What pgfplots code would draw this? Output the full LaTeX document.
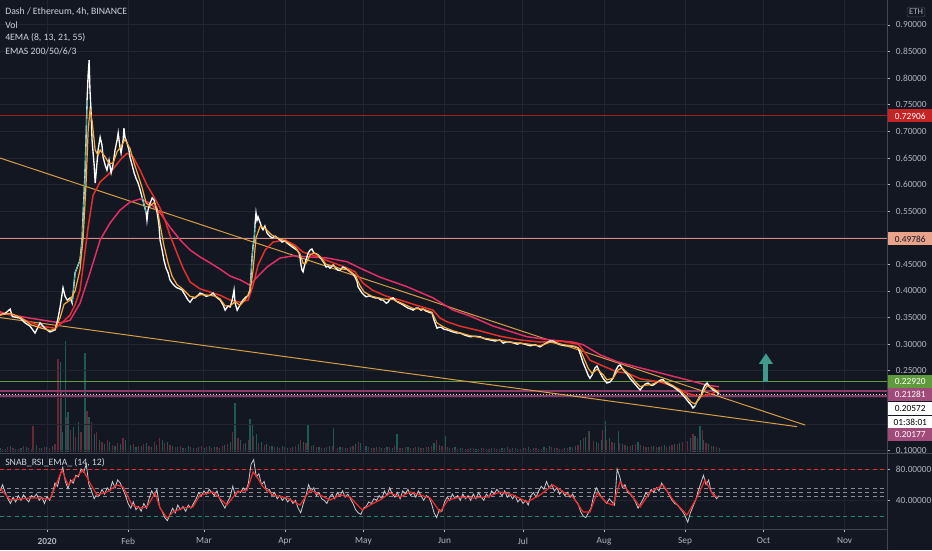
\documentclass[border=0pt]{standalone}
\usepackage{pgfplots}
\pgfplotsset{compat=1.18}
\usepackage{fontspec}
\setmainfont{Carlito}
\usetikzlibrary{arrows.meta}

\definecolor{bg}{HTML}{131722}
\definecolor{gridc}{HTML}{222531}
\definecolor{sepc}{HTML}{434651}
\definecolor{txt}{HTML}{B2B5BE}
\definecolor{txtl}{HTML}{D1D4DC}
\definecolor{emaorange}{HTML}{F7A93C}
\definecolor{emared}{HTML}{E8302B}
\definecolor{emapink}{HTML}{E52E66}
\definecolor{trend}{HTML}{D69D45}
\definecolor{hred}{HTML}{A51D1D}
\definecolor{hsalmon}{HTML}{D9897A}
\definecolor{hgreen}{HTML}{62973F}
\definecolor{hplum}{HTML}{8C3A68}
\definecolor{boxred}{HTML}{C62424}
\definecolor{boxsalmon}{HTML}{E9A38B}
\definecolor{boxgreen}{HTML}{5F9B3C}
\definecolor{boxplum}{HTML}{A04B7A}
\definecolor{volup}{HTML}{1D5A55}
\definecolor{voldn}{HTML}{6A2738}
\definecolor{arrowc}{HTML}{3E9A8C}
\definecolor{candle}{HTML}{26A69A}
\definecolor{rsiwhite}{HTML}{C9CACE}
\definecolor{rsired}{HTML}{F02A2A}
\definecolor{rsigreen}{HTML}{1C8A6A}
\definecolor{rsigrey}{HTML}{8A8D96}

\pgfplotsset{
  tv/.style={
    scale only axis, width=665.25pt,
    xmin=-18, xmax=321.2,
    axis line style={draw=none},
    grid style={gridc, line width=0.75pt},
    xtick={0,31,60,91,121,152,182,213,244,274,305},
    ytick pos=right, yticklabel pos=right,
    tick align=outside, major tick length=2.5pt,
    ytick style={txt, line width=0.5pt},
    ticklabel style={font=\fontsize{7}{8}\selectfont, text=txt},
    yticklabel style={anchor=west, inner sep=0pt, xshift=4pt},
    scaled y ticks=false,
    clip mode=individual,
  },
}

\begin{document}
\begin{tikzpicture}
\useasboundingbox (0,0) rectangle (699pt,412.5pt);
\fill[bg] (0,0) rectangle (699pt,412.5pt);

% volume
\begin{axis}[at={(0pt,187.5pt)}, anchor=north west, scale only axis,
  width=665.25pt, height=114pt, xmin=-18, xmax=321.2, ymin=0, ymax=152, hide axis]
\addplot[ycomb, volup, line width=0.9pt, mark=none] coordinates {
(-18,4)(-16,3)(-14,6)(-12,3)(-10,4)(-8,5)(-6,3)(-4,7)(-2,4)(0,5)(2,6)(4,30)(5,90)(6,20)(6.9,111)(8,40)(10,25)(12,30)(14.5,99)(16,35)(18,18)(20,12)(22,8)(24,10)(26,6)(28,8)(30,12)(32,7)(34,5)(36,6)(38,9)(40,5)(42,7)(44,12)(46,10)(48,6)(50,5)(52,4)(54,6)(56,4)(58,5)(60,4)(62,6)(64,5)(66,4)(68,7)(70,10)(71.9,49)(74,12)(76,9)(77.6,33)(78.5,28)(80,18)(82,10)(84,8)(86,6)(88,5)(90,6)(92,4)(94,5)(96,8)(98,10)(99.8,28)(102,7)(104,5)(106,4)(108,6)(109.4,24)(112,5)(114,4)(116,5)(118,8)(120,9)(122,6)(124,4)(126,5)(128,4)(130,5)(132,4)(133.8,18)(136,4)(138,5)(140,4)(142,5)(144,4)(146,5)(148,9)(150,7)(152.2,16)(154,4)(156,5)(158,4)(160,3)(162,4)(164,3)(166,4)(168,3)(170,4)(172,3)(174,4)(176,5)(178,4)(180,3)(182,4)(184,5)(186,4)(188,3)(190,5)(192,6)(194,4)(196,3)(198,4)(200,5)(202,6)(204,12)(206,15)(207.5,21)(210,10)(212,12)(213.4,31)(215,14)(217,9)(218.4,21)(220,8)(222,6)(224,7)(226,10)(228,6)(230,5)(232,6)(234,5)(236,7)(238,6)(240,8)(242,9)(244,12)(246,14)(247.8,16)(249.7,26)(251,12)(253,8)(255,6)(257,4)};
\addplot[ycomb, voldn, line width=0.9pt, mark=none] coordinates {
(-17,3)(-15,5)(-13,4)(-11,3)(-9,6)(-7,4)(-5.4,26)(-3,4)(-1,5)(1,4)(3,8)(4.2,93)(5.5,60)(7.5,35)(9,22)(11,15)(13,20)(15.3,41)(17,30)(19,20)(21,10)(23,12)(25,7)(27,9)(29,14)(31,10)(33,8)(35,6)(37,8)(39,6)(41,10)(43,14)(45,9)(47,7)(49,5)(51,6)(53,4)(55,5)(57,4)(59,6)(61,5)(63,4)(65,5)(67,6)(69,8)(71,20)(73,14)(75,8)(77,12)(79,16)(81,9)(83,7)(85,6)(87,5)(89,4)(91,5)(93,4)(95,6)(97,12)(99,9)(101,6)(103,5)(105,4)(107,5)(109,6)(111,4)(113,5)(115,4)(117,6)(119,10)(121,7)(123,5)(125,4)(127,5)(129,4)(131,5)(133,6)(135,4)(137,5)(139,4)(141,5)(143,4)(145,5)(147,6)(149,12)(151,6)(153,5)(155,4)(157,3)(159,4)(161,3)(163,4)(165,3)(167,4)(169,3)(171,4)(173,3)(175,4)(177,3)(179,4)(181,3)(183,4)(185,3)(187,4)(189,3)(191,4)(193,5)(195,4)(197,3)(199,4)(201,5)(203,7)(205,14)(206.9,21)(209,11)(211,9)(212.5,22)(214,12)(216,10)(219,9)(221,7)(223,6)(225,8)(227,7)(229,5)(231,6)(233,5)(235,6)(237,5)(239,7)(241,8)(243,10)(245,11)(247,18)(248.6,14)(250.5,22)(252,9)(254,6)(256,5)};
\end{axis}

% price pane
\begin{axis}[tv, at={(0pt,412.5pt)}, anchor=north west, height=339.75pt,
  ymin=0.0955, ymax=0.947,
  xmajorgrids, ymajorgrids, xticklabels={}, xtick style={draw=none},
  ytick={0.10,0.15,0.20,0.25,0.30,0.35,0.40,0.45,0.50,0.55,0.60,0.65,0.70,0.75,0.80,0.85,0.90},
  yticklabels={0.10000,,,0.25000,0.30000,0.35000,0.40000,0.45000,,0.55000,0.60000,0.65000,0.70000,0.75000,0.80000,0.85000,0.90000},
]
% horizontal levels
\addplot[hred, line width=0.75pt] coordinates {(-18,0.72906)(321.2,0.72906)};
\addplot[hsalmon, line width=0.75pt] coordinates {(-18,0.49786)(321.2,0.49786)};
\addplot[hgreen, line width=0.75pt] coordinates {(-18,0.22920)(321.2,0.22920)};
\addplot[hplum, line width=1.5pt] coordinates {(-18,0.21281)(321.2,0.21281)};
\addplot[hplum, line width=1.5pt] coordinates {(-18,0.20177)(321.2,0.20177)};
\addplot[white!85!black, line width=0.6pt, dash pattern=on 0.75pt off 1.5pt] coordinates {(-18,0.20572)(321.2,0.20572)};
% trend lines
\addplot[trend, line width=0.75pt] coordinates {(-18.0,0.650)(289.9,0.148)};
\addplot[trend, line width=0.75pt] coordinates {(-18.0,0.350)(286.8,0.145)};
% slow EMA
\addplot[emapink, line width=1.1pt] coordinates {
(-18.0,0.359)(-6.5,0.349)(5.0,0.340)(8.8,0.345)(12.6,0.377)(16.4,0.434)(20.3,0.496)(24.1,0.528)(27.9,0.552)(31.7,0.567)(35.6,0.573)(39.4,0.565)(43.2,0.547)(47.0,0.520)(50.9,0.496)(54.7,0.477)(58.5,0.464)(62.3,0.453)(66.2,0.441)(70.0,0.428)(73.8,0.421)(77.6,0.411)(80.3,0.426)(84.1,0.445)(89.1,0.462)(94.1,0.466)(100.6,0.464)(107.1,0.462)(114.7,0.455)(119.7,0.443)(127.3,0.426)(137.7,0.408)(147.6,0.387)(155.3,0.364)(161.8,0.353)(170.6,0.334)(183.6,0.314)(192.4,0.308)(201.1,0.304)(205.0,0.299)(211.5,0.280)(218.0,0.267)(225.6,0.257)(234.4,0.246)(244.7,0.233)(252.4,0.223)(257.0,0.220)};
% medium EMA
\addplot[emared, line width=1.1pt] coordinates {
(-18.0,0.361)(-10.3,0.349)(-2.7,0.334)(3.1,0.330)(6.1,0.342)(8.8,0.355)(10.7,0.374)(12.6,0.402)(14.1,0.458)(15.7,0.520)(17.6,0.580)(20.3,0.605)(24.1,0.622)(27.9,0.646)(30.6,0.659)(32.9,0.652)(35.6,0.627)(38.2,0.599)(40.5,0.580)(43.2,0.556)(45.1,0.533)(47.0,0.505)(49.7,0.471)(52.0,0.443)(54.7,0.417)(58.5,0.404)(62.3,0.398)(66.2,0.392)(70.0,0.383)(73.8,0.379)(76.9,0.383)(78.8,0.411)(80.7,0.449)(83.4,0.477)(86.4,0.492)(91.0,0.496)(94.8,0.486)(97.9,0.473)(102.5,0.466)(108.2,0.455)(114.0,0.445)(117.8,0.436)(120.8,0.415)(124.3,0.402)(129.3,0.391)(135.0,0.383)(140.7,0.374)(147.6,0.364)(150.3,0.349)(153.0,0.342)(157.9,0.334)(165.6,0.325)(173.2,0.315)(180.9,0.308)(188.5,0.304)(196.2,0.306)(203.1,0.300)(205.0,0.289)(207.6,0.270)(212.6,0.259)(218.0,0.248)(221.8,0.246)(226.8,0.235)(234.4,0.229)(239.4,0.221)(244.7,0.208)(249.7,0.201)(254.7,0.208)(257.0,0.214)};
% price (close, with a few wicks)
\addplot[white, line width=1.0pt] coordinates {
(-18.0,0.355)(-16.0,0.358)(-14.1,0.366)(-13.3,0.352)(-10.3,0.349)(-8.4,0.340)(-6.5,0.334)(-4.6,0.321)(-2.7,0.340)(-0.8,0.330)(1.1,0.323)(3.1,0.327)(4.2,0.349)(5.0,0.370)(6.1,0.406)(6.9,0.390)(7.7,0.383)(8.8,0.387)(9.6,0.377)(10.7,0.434)(11.9,0.449)(12.6,0.458)(13.4,0.496)(13.8,0.547)(14.5,0.618)(14.9,0.684)(15.3,0.759)(15.7,0.806)(16.1,0.834)(16.4,0.778)(16.8,0.740)(17.2,0.684)(18.0,0.637)(18.4,0.603)(18.7,0.618)(19.5,0.665)(20.3,0.689)(21.0,0.674)(21.4,0.652)(22.2,0.637)(22.9,0.627)(23.7,0.646)(24.5,0.622)(25.2,0.637)(26.0,0.665)(26.8,0.684)(27.2,0.697)(27.9,0.669)(28.3,0.659)(29.1,0.684)(29.4,0.706)(29.8,0.689)(30.6,0.678)(31.3,0.665)(31.7,0.652)(32.5,0.637)(33.3,0.622)(34.0,0.612)(34.8,0.603)(35.6,0.590)(36.3,0.577)(37.1,0.562)(37.9,0.547)(38.2,0.533)(38.6,0.552)(39.4,0.565)(40.2,0.575)(40.9,0.571)(41.7,0.556)(42.1,0.547)(42.8,0.524)(43.2,0.496)(44.0,0.477)(44.7,0.458)(45.5,0.443)(46.3,0.434)(47.0,0.421)(47.8,0.415)(48.9,0.409)(49.7,0.406)(50.8,0.404)(51.6,0.402)(52.8,0.392)(53.9,0.383)(54.7,0.379)(55.8,0.387)(56.6,0.387)(57.7,0.392)(58.5,0.396)(59.7,0.394)(60.8,0.390)(62.3,0.392)(63.5,0.396)(64.6,0.389)(66.2,0.383)(67.3,0.374)(68.1,0.364)(69.2,0.372)(70.0,0.370)(70.8,0.383)(71.5,0.402)(71.9,0.377)(72.7,0.364)(73.8,0.374)(74.9,0.383)(76.1,0.389)(76.8,0.391)(77.6,0.402)(78.0,0.430)(78.4,0.464)(78.8,0.486)(79.2,0.496)(79.5,0.524)(79.9,0.547)(80.3,0.533)(80.7,0.539)(81.5,0.528)(82.2,0.518)(82.6,0.515)(83.3,0.522)(84.1,0.509)(85.2,0.503)(86.0,0.500)(87.2,0.503)(88.0,0.500)(89.1,0.496)(89.9,0.492)(91.0,0.494)(91.8,0.490)(92.9,0.486)(93.7,0.483)(94.9,0.479)(95.6,0.477)(96.4,0.471)(96.7,0.464)(97.1,0.449)(97.5,0.439)(97.9,0.436)(98.3,0.445)(99.0,0.458)(99.8,0.471)(100.6,0.477)(101.3,0.479)(102.1,0.471)(102.9,0.470)(103.6,0.468)(104.4,0.463)(105.2,0.458)(105.9,0.453)(106.7,0.445)(107.5,0.447)(108.2,0.443)(109.4,0.449)(110.1,0.445)(111.3,0.439)(112.0,0.439)(113.2,0.445)(114.0,0.443)(115.1,0.439)(115.9,0.436)(117.0,0.432)(117.8,0.426)(118.6,0.417)(118.9,0.408)(119.7,0.402)(120.5,0.396)(121.3,0.392)(122.0,0.389)(123.2,0.391)(124.3,0.389)(125.5,0.387)(126.6,0.387)(127.7,0.383)(128.5,0.383)(129.7,0.377)(130.4,0.379)(131.2,0.385)(132.3,0.387)(133.5,0.381)(134.2,0.379)(135.4,0.376)(136.1,0.374)(137.3,0.370)(138.0,0.368)(139.2,0.366)(140.0,0.364)(141.1,0.368)(141.9,0.368)(143.0,0.364)(143.8,0.366)(145.0,0.362)(145.7,0.361)(146.5,0.359)(147.2,0.359)(148.0,0.345)(148.8,0.334)(149.1,0.330)(149.9,0.332)(150.7,0.332)(151.8,0.328)(153.0,0.327)(154.1,0.325)(155.3,0.323)(156.8,0.321)(157.9,0.321)(159.8,0.317)(161.8,0.314)(163.7,0.315)(165.6,0.314)(167.5,0.310)(169.4,0.308)(171.3,0.306)(173.2,0.308)(174.4,0.302)(175.5,0.304)(177.1,0.304)(178.6,0.302)(179.8,0.300)(180.9,0.302)(182.8,0.300)(184.7,0.297)(186.6,0.299)(188.5,0.295)(190.4,0.301)(191.6,0.304)(192.4,0.306)(193.5,0.306)(194.7,0.302)(196.2,0.299)(198.1,0.297)(200.0,0.297)(201.9,0.295)(203.1,0.293)(203.8,0.283)(205.0,0.265)(206.1,0.252)(206.9,0.242)(207.6,0.236)(208.4,0.242)(209.5,0.255)(210.3,0.259)(211.5,0.246)(212.6,0.236)(213.4,0.231)(214.1,0.227)(215.3,0.229)(216.4,0.236)(217.6,0.252)(218.4,0.259)(219.1,0.261)(219.9,0.255)(221.0,0.248)(221.8,0.244)(222.9,0.236)(224.1,0.229)(225.2,0.223)(226.0,0.218)(226.8,0.214)(227.9,0.221)(228.7,0.225)(229.8,0.227)(231.0,0.223)(231.7,0.223)(232.9,0.227)(234.0,0.231)(234.8,0.233)(235.6,0.233)(236.7,0.227)(238.2,0.223)(239.4,0.220)(240.5,0.216)(242.1,0.210)(243.2,0.204)(244.4,0.197)(245.5,0.190)(246.3,0.186)(247.0,0.180)(247.8,0.184)(248.6,0.193)(249.3,0.199)(250.1,0.204)(250.9,0.216)(251.6,0.223)(252.4,0.227)(253.2,0.221)(253.9,0.218)(254.7,0.214)(255.5,0.212)(256.2,0.210)(257.0,0.206)};
% rising candle bodies in the big moves
\addplot[candle, line width=0.5pt] coordinates {(9.6,0.377)(10.7,0.434)(11.9,0.449)(12.6,0.458)(13.4,0.496)(13.8,0.547)(14.5,0.618)(14.9,0.684)(15.3,0.759)};
\addplot[candle, line width=0.5pt] coordinates {(77.6,0.402)(78.0,0.430)(78.4,0.464)(78.8,0.486)(79.2,0.496)(79.5,0.524)};
\addplot[candle, line width=0.5pt] coordinates {(36.3,0.577)(37.1,0.562)(37.9,0.547)};
\addplot[candle, line width=0.5pt] coordinates {(247.8,0.184)(248.6,0.193)(249.3,0.199)(250.1,0.204)};
% fast EMA
\addplot[emaorange, line width=0.9pt] coordinates {
(-18,0.355)(-14,0.358)(-10,0.350)(-6,0.336)(-2,0.330)(1,0.326)(3,0.328)(5,0.350)(6.5,0.375)(8.8,0.383)(10.7,0.400)(12.6,0.440)(13.8,0.500)(14.9,0.600)(15.7,0.700)(16.4,0.740)(17.2,0.720)(18.4,0.665)(19.5,0.655)(20.3,0.665)(22.2,0.652)(23.7,0.640)(25.2,0.640)(26.8,0.662)(28.3,0.672)(29.8,0.685)(31.7,0.668)(33.3,0.640)(34.8,0.618)(36.3,0.595)(37.9,0.565)(39.4,0.560)(40.9,0.566)(42.1,0.555)(43.2,0.525)(44.7,0.485)(46.3,0.452)(47.8,0.428)(49.7,0.412)(51.6,0.405)(54.7,0.390)(56.6,0.388)(58.5,0.393)(62.3,0.392)(64.6,0.390)(66.2,0.385)(68.1,0.372)(70.0,0.372)(71.9,0.380)(73.8,0.373)(76.1,0.386)(77.6,0.398)(78.8,0.440)(79.9,0.500)(81.5,0.522)(83.3,0.518)(86.0,0.505)(89.1,0.498)(91.8,0.492)(94.9,0.482)(96.7,0.470)(97.9,0.452)(99.0,0.452)(100.6,0.468)(102.1,0.472)(104.4,0.465)(106.7,0.450)(109.4,0.447)(112.0,0.442)(115.1,0.440)(117.8,0.430)(119.7,0.410)(121.3,0.398)(124.3,0.390)(128.5,0.385)(132.3,0.384)(136.1,0.376)(140.0,0.367)(143.8,0.366)(147.2,0.360)(149.1,0.340)(151.8,0.332)(155.3,0.325)(161.8,0.316)(167.5,0.311)(173.2,0.307)(177.1,0.304)(182.8,0.301)(188.5,0.297)(192.4,0.304)(196.2,0.300)(201.9,0.296)(203.8,0.290)(205.0,0.277)(206.9,0.255)(208.4,0.245)(210.3,0.253)(212.6,0.243)(214.1,0.233)(216.4,0.236)(218.4,0.252)(219.9,0.255)(222.9,0.242)(225.2,0.228)(226.8,0.220)(228.7,0.223)(231.0,0.224)(234.0,0.230)(236.7,0.229)(239.4,0.222)(242.1,0.213)(244.4,0.202)(246.3,0.191)(247.8,0.188)(249.3,0.196)(250.9,0.210)(252.4,0.222)(254.7,0.217)(257.0,0.209)};
% target arrow
\addplot[arrowc, line width=3.75pt, -{Triangle[width=10pt,length=8pt]}] coordinates {(274.9,0.229)(274.9,0.283)};
% price scale markers
\tikzset{pbox/.style={anchor=west, inner sep=0pt, minimum width=33pt, minimum height=9.75pt, font=\fontsize{7}{8}\selectfont, xshift=0.75pt}}
\node[pbox, fill=boxred, text=white] at (axis cs:321.2,0.72906) {0.72906};
\node[pbox, fill=boxsalmon, text=bg] at (axis cs:321.2,0.49786) {0.49786};
\node[pbox, fill=boxgreen, text=white] at (axis cs:321.2,0.22920) {0.22920};
\node[pbox, fill=boxplum, text=white, yshift=-2.9pt] at (axis cs:321.2,0.21281) {0.21281};
\node[pbox, fill=white, text=black, yshift=-10.8pt] at (axis cs:321.2,0.20572) {0.20572};
\node[pbox, fill=white, text=black, yshift=-20.9pt] at (axis cs:321.2,0.20572) {01:38:01};
\node[pbox, fill=boxplum, text=white, yshift=-28.9pt] at (axis cs:321.2,0.20177) {0.20177};
\end{axis}

% RSI pane
\begin{axis}[tv, at={(0pt,71.25pt)}, anchor=north west, height=55.5pt,
  ymin=3.4, ymax=97.9, xmajorgrids, ymajorgrids,
  xtick pos=bottom, xtick style={txt, line width=0.5pt},
  xticklabels={\textbf{2020},Feb,Mar,Apr,May,Jun,Jul,Aug,Sep,Oct,Nov},
  xticklabel style={anchor=center, inner sep=0pt, yshift=-6.5pt},
  ytick={40,80}, yticklabels={40.00000,80.00000},
]
\addplot[rsired, line width=0.75pt, dash pattern=on 3pt off 2.5pt] coordinates {(-18,80)(321.2,80)};
\addplot[rsigreen, line width=0.75pt, dash pattern=on 3pt off 2.5pt] coordinates {(-18,20)(321.2,20)};
\addplot[rsigrey, line width=0.6pt, dash pattern=on 3pt off 2.5pt] coordinates {(-18,55)(321.2,55)};
\addplot[rsigrey, line width=0.6pt, dash pattern=on 3pt off 2.5pt] coordinates {(-18,50)(321.2,50)};
\addplot[rsigrey, line width=0.6pt, dash pattern=on 3pt off 2.5pt] coordinates {(-18,45)(321.2,45)};
\addplot[rsiwhite, line width=0.6pt] coordinates {
(-18,52)(-17,60)(-16,50)(-15,42)(-14,36)(-13,44)(-12,38)(-11,46)(-10,40)(-9,47)(-8,42)(-7,38)(-6,46)(-5,44)(-4,48)(-3,40)(-2,44)(-1,36)(0,45)(1,40)(2,48)(3,62)(4,58)(5,72)(6,82)(7,64)(8,55)(9,66)(10,62)(11,72)(12,70)(13,80)(14,76)(15,86)(16,60)(17,52)(18,42)(19,48)(20,46)(21,54)(22,48)(23,56)(24,52)(25,64)(26,56)(27,66)(28,62)(29,54)(30,46)(31,36)(32,30)(33,38)(34,28)(35,32)(36,26)(37,36)(38,30)(39,42)(40,52)(41,46)(42,54)(43,32)(44,26)(45,18)(46,14)(47,22)(48,30)(49,24)(50,34)(51,28)(52,32)(53,26)(54,34)(55,30)(56,36)(57,42)(58,50)(59,46)(60,52)(61,48)(62,54)(63,50)(64,46)(65,52)(66,42)(67,36)(68,30)(69,38)(70,44)(71,58)(72,46)(73,52)(74,50)(75,56)(76,52)(77,62)(78,86)(79,92)(80,70)(81,74)(82,60)(83,64)(84,52)(85,54)(86,46)(87,50)(88,42)(89,46)(90,40)(91,44)(92,38)(93,42)(94,36)(95,40)(96,30)(97,24)(98,36)(99,46)(100,60)(101,52)(102,56)(103,46)(104,50)(105,42)(106,40)(107,36)(108,44)(109,48)(110,42)(111,50)(112,46)(113,52)(114,44)(115,48)(116,42)(117,36)(118,28)(119,24)(120,22)(121,30)(122,32)(123,38)(124,36)(125,42)(126,40)(127,46)(128,42)(129,52)(130,46)(131,56)(132,48)(133,44)(134,50)(135,42)(136,52)(137,48)(138,54)(139,46)(140,50)(141,44)(142,52)(143,46)(144,40)(145,46)(146,44)(147,36)(148,24)(149,18)(150,28)(151,26)(152,38)(153,44)(154,40)(155,48)(156,42)(157,46)(158,40)(159,48)(160,42)(161,46)(162,40)(163,48)(164,42)(165,50)(166,44)(167,40)(168,48)(169,44)(170,52)(171,48)(172,54)(173,50)(174,46)(175,52)(176,44)(177,48)(178,42)(179,46)(180,38)(181,42)(182,36)(183,40)(184,34)(185,46)(186,50)(187,44)(188,52)(189,58)(190,54)(191,64)(192,56)(193,60)(194,52)(195,56)(196,48)(197,52)(198,46)(199,50)(200,44)(201,48)(202,40)(203,36)(204,26)(205,20)(206,18)(207,24)(208,30)(209,46)(210,56)(211,50)(212,44)(213,40)(214,36)(215,42)(216,38)(217,34)(218,80)(219,70)(220,56)(221,60)(222,50)(223,48)(224,44)(225,38)(226,30)(227,36)(228,42)(229,50)(230,46)(231,54)(232,50)(233,56)(234,52)(235,62)(236,56)(237,52)(238,46)(239,40)(240,36)(241,34)(242,30)(243,26)(244,20)(245,12)(246,24)(247,32)(248,40)(249,52)(250,62)(251,72)(252,60)(253,66)(254,50)(255,48)(256,42)(257,46)};
\addplot[rsired, line width=0.9pt] coordinates {
(-18.0,55.7)(-14.1,40.4)(-10.3,41.7)(-6.5,43.0)(-2.7,43.0)(1.1,41.7)(3.1,57.0)(5.7,78.7)(8.0,59.6)(10.7,68.5)(13.8,78.7)(16.4,62.1)(19.1,46.8)(22.9,50.6)(26.8,59.6)(29.1,57.0)(32.5,34.0)(35.6,30.2)(38.2,31.5)(41.3,49.4)(43.2,30.2)(45.9,17.4)(48.2,25.1)(52.0,30.2)(55.8,31.5)(58.5,46.8)(63.5,50.6)(68.8,34.0)(72.7,50.6)(76.5,53.2)(78.8,76.2)(80.3,69.8)(82.6,57.0)(86.4,46.8)(91.8,43.0)(96.7,34.0)(100.6,53.2)(104.4,46.8)(108.2,40.4)(112.0,46.8)(115.9,44.2)(120.5,27.6)(123.5,34.0)(127.3,40.4)(131.2,49.4)(135.0,44.2)(138.8,50.6)(142.6,46.8)(146.5,43.0)(150.3,25.1)(153.3,40.4)(157.9,44.2)(162.9,43.0)(168.2,44.2)(173.2,50.6)(178.2,46.8)(183.6,37.9)(188.5,46.8)(193.5,59.6)(197.4,50.6)(201.1,44.2)(205.0,25.1)(207.6,25.1)(210.3,49.4)(214.1,36.6)(216.4,34.0)(219.1,63.4)(222.9,49.4)(226.8,31.5)(230.6,50.6)(235.6,59.6)(239.4,40.4)(244.7,21.3)(248.6,44.2)(251.6,66.0)(254.7,46.8)(256.2,44.2)};
\end{axis}

% pane separators
\draw[sepc, line width=0.75pt] (665.25pt,0pt) -- (665.25pt,412.5pt);
\draw[sepc, line width=0.75pt] (0pt,72.4pt) -- (699pt,72.4pt);
\draw[sepc, line width=0.75pt] (0pt,15.75pt) -- (665.25pt,15.75pt);

% titles
\begin{scope}[every node/.style={anchor=west, inner sep=0pt, text=txtl, font=\fontsize{7.3}{8}\selectfont}]
\node at (3.75pt,403.5pt) {Dash / Ethereum, 4h, BINANCE};
\node at (3.75pt,393.75pt) {Vol};
\node at (3.75pt,384pt) {4EMA (8, 13, 21, 55)};
\node at (3.75pt,374.25pt) {EMAS 200/50/6/3};
\node at (3.75pt,65.25pt) {SNAB\_RSI\_EMA\_ (14, 12)};
\end{scope}
\node[draw=sepc, rounded corners=1.5pt, text=txt, inner sep=1.5pt, font=\fontsize{6.5}{7}\selectfont] at (687pt,403.5pt) {ETH};
\end{tikzpicture}
\end{document}
